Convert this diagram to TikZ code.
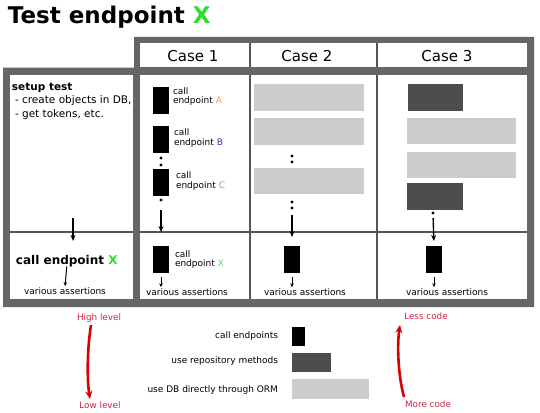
\documentclass[tikz,border=0pt]{standalone}
\usepackage{fontspec}
\setmainfont{DejaVu Sans}
\usetikzlibrary{arrows.meta}
\definecolor{framegray}{HTML}{666666}
\definecolor{thingray}{HTML}{555555}
\definecolor{lgray}{HTML}{CCCCCC}
\definecolor{dgray}{HTML}{4D4D4D}
\definecolor{xgreen}{HTML}{2EDD2E}
\definecolor{xlgreen}{HTML}{66CC66}
\definecolor{aorange}{HTML}{F0A040}
\definecolor{bblue}{HTML}{3333BB}
\definecolor{cgray}{HTML}{999999}
\definecolor{redtxt}{HTML}{CC2244}
\definecolor{redarr}{HTML}{DD0000}
\begin{document}
\begin{tikzpicture}[x=1pt,y=-1pt,
  every node/.style={inner sep=0pt, outer sep=0pt},
  blk/.style={fill=black, minimum width=16pt, minimum height=27pt, anchor=north west},
  repo/.style={fill=dgray, minimum width=#1, minimum height=27pt, anchor=north west},
  orm/.style={fill=lgray, minimum width=#1, minimum height=27pt, anchor=north west},
  dotn/.style={circle, fill=black, minimum size=3.2pt},
  small/.style={font=\fontsize{9}{10}\selectfont, anchor=base west},
  vas/.style={font=\fontsize{9}{10}\selectfont, anchor=base},
  casehd/.style={font=\fontsize{15}{17}\selectfont, anchor=base},
  setuptxt/.style={font=\fontsize{10.5}{12}\selectfont, anchor=base west},
  flow/.style={-{Stealth[length=6pt,width=5pt]}, line width=1.4pt},
  shortarr/.style={-{Stealth[length=4pt,width=3.5pt]}, line width=1pt},
  redflow/.style={-{Stealth[length=8pt,width=7pt]}, line width=2.6pt, draw=redarr},
  redlbl/.style={font=\fontsize{8.8}{10}\selectfont, text=redtxt, anchor=base},
  legtxt/.style={font=\fontsize{9}{10}\selectfont, anchor=base east},
  thinline/.style={draw=thingray, line width=1.2pt}
]
\useasboundingbox (0,0) rectangle (540,412);

% title
\node[font=\bfseries\fontsize{23}{26}\selectfont, anchor=base west] (title) at (8,24) {Test endpoint \textcolor{xgreen}{X}};

% frame
\fill[framegray] (134,37) -- (534,37) -- (534,307) -- (3,307) -- (3,67.5) -- (134,67.5) -- cycle;
\fill[white] (140,43) rectangle (527,67);
\fill[white] (10,75) rectangle (133,299);
\fill[white] (140,75) rectangle (527,299);
\draw[thinline] (250,43) -- (250,67);
\draw[thinline] (377,43) -- (377,67);
\draw[thinline] (250,75) -- (250,299);
\draw[thinline] (377,75) -- (377,299);
\draw[thinline] (10,232) -- (133,232);
\draw[thinline] (140,232) -- (527,232);

% headers
\node[casehd] (h1) at (193,61.5) {Case 1};
\node[casehd] (h2) at (307,61.5) {Case 2};
\node[casehd] (h3) at (447,61.5) {Case 3};

% setup column
\node[setuptxt, font=\bfseries\fontsize{10.5}{12}\selectfont] (s1) at (12,90) {setup test};
\node[setuptxt] (s2) at (15,103.5) {- create objects in DB,};
\node[setuptxt] (s3) at (15,117) {- get tokens, etc.};
\coordinate (s0) at (73,218);
\node[font=\bfseries\fontsize{12}{14}\selectfont, anchor=base west] (ce) at (16,264) {call endpoint \textcolor{xgreen}{X}};
\node[vas] (va0) at (65,294) {various assertions};
\draw[flow, shorten >=14pt] (s0) -- (s0 |- ce.north);
\draw[shortarr, shorten >=1pt] (ce.south) -- (va0.north);

% case 1
\node[blk] (a1) at (153,87) {};
\node[small] (ta1) at (173,94) {call};
\node[small] (ta2) at (173,103.5) {endpoint \textcolor{aorange}{A}};
\node[blk] (b1) at (153,126) {};
\node[small] (tb1) at (174,135) {call};
\node[small] (tb2) at (174,145) {endpoint \textcolor{bblue}{B}};
\node[dotn] (d11) at (161,158) {};
\node[dotn] (d12) at (161,165) {};
\node[blk] (c1) at (153,169) {};
\node[small] (tc1) at (176,178) {call};
\node[small] (tc2) at (176,188) {endpoint \textcolor{cgray}{C}};
\node[dotn] (d13) at (161,200) {};
\node[blk] (x1) at (153,246) {};
\node[small] (tx1) at (175,257) {call};
\node[small] (tx2) at (175,266.5) {endpoint \textcolor{xlgreen}{X}};
\node[vas] (va1) at (187,295) {various assertions};
\draw[flow, shorten <=8.4pt, shorten >=14pt] (d13) -- (x1.north);
\draw[shortarr, shorten <=4pt, shorten >=1pt] (x1.south) -- (va1.north -| x1.south);

% case 2
\node[orm=110pt] (o21) at (254,84) {};
\node[orm=110pt] (o22) at (254,118) {};
\node[dotn] (d21) at (292,156) {};
\node[dotn] (d22) at (292,162) {};
\node[orm=110pt, minimum height=26pt] (o23) at (254,168) {};
\node[dotn] (d23) at (292,202) {};
\node[dotn] (d24) at (292,208) {};
\node[blk] (x2) at (284,246) {};
\node[vas] (va2) at (305,295) {various assertions};
\draw[flow, shorten <=5.4pt, shorten >=9pt] (d24) -- (x2.north);
\draw[shortarr, shorten <=4pt, shorten >=1pt] (x2.south) -- (va2.north -| x2.south);

% case 3
\node[repo=55pt] (r31) at (408,84) {};
\node[orm=109pt, minimum height=26pt] (o31) at (407,118) {};
\node[orm=109pt, minimum height=26pt] (o32) at (407,152) {};
\node[repo=56pt] (r32) at (407,183) {};
\node[dotn] (d31) at (433,213) {};
\node[blk] (x3) at (426,246) {};
\node[vas] (va3) at (447,295) {various assertions};
\draw[flow, shorten <=3.4pt, shorten >=5pt] (d31) -- (x3.north);
\draw[shortarr, shorten <=4pt, shorten >=1pt] (x3.south) -- (va3.north -| x3.south);

% legend
\node[legtxt] (l1) at (278,338) {call endpoints};
\node[legtxt] (l2) at (278,363.5) {use repository methods};
\node[legtxt] (l3) at (278,392) {use DB directly through ORM};
\node[fill=black, minimum width=13pt, minimum height=19pt, anchor=north west] (k1) at (292,327) {};
\node[fill=dgray, minimum width=39pt, minimum height=19pt, anchor=north west] (k2) at (292,353) {};
\node[fill=lgray, minimum width=77pt, minimum height=20pt, anchor=north west] (k3) at (292,379) {};

% level / code arrows
\node[redlbl] (hl) at (99,320.5) {High level};
\node[redlbl] (ll) at (100,408) {Low level};
\node[redlbl] (lc) at (426,319) {Less code};
\node[redlbl] (mc) at (428,407) {More code};
\coordinate (hA) at (91,325);
\coordinate (hB) at (90,399);
\coordinate (cA) at (404,397);
\coordinate (cB) at (400,325);
\draw[redflow] (hA) .. controls (87,350) and (87,380) .. (hB);
\draw[redflow] (cA) .. controls (398,375) and (397,345) .. (cB);
\end{tikzpicture}
\end{document}
